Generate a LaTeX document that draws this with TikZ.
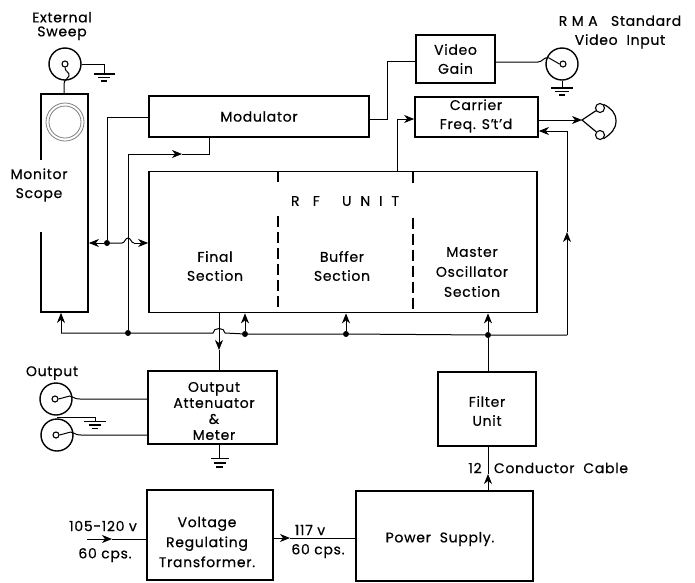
\documentclass[tikz,border=0pt]{standalone}
\usepackage{fontspec}
\setmainfont[LetterSpace=5,FakeBold=0.5]{Poppins}
\usetikzlibrary{arrows.meta}
\tikzset{
 box/.style={draw,line width=1.7pt,inner sep=0pt,align=center},
 lbl/.style={inner sep=0pt,align=center,font=\fontsize{14}{19}\selectfont},
 wire/.style={line width=1pt},
 arr/.style={wire,-{Stealth[length=10pt,width=8pt,inset=3pt]}},
 dot/.style={circle,fill=black,inner sep=0pt,minimum size=6pt},
 jack/.style={circle,draw,line width=1.4pt,inner sep=0pt,minimum size=32pt},
 pin/.style={circle,draw,line width=1.1pt,inner sep=0pt,minimum size=6pt},
 gnd/.style={line width=1.2pt},
 sep/.style={line width=1.2pt},
}
\newcommand{\boxat}[5]{\node[box,minimum width=#4pt,minimum height=#5pt] (#1) at (#2,#3) {};}
\begin{document}
\begin{tikzpicture}[x=1pt,y=-1pt]
\useasboundingbox[fill=white] (0,0) rectangle (695,582);
% boxes
\boxat{scope}{64.5}{203}{47}{218}
\boxat{mod}{259}{116.5}{220}{41}
\boxat{vid}{455.5}{59}{79}{48}
\boxat{car}{476.5}{117}{123}{40}
\boxat{rf}{343}{242}{388}{141}
\boxat{filt}{487}{409}{98}{74}
\boxat{att}{212.5}{407.5}{129}{73}
\boxat{vol}{210}{535}{126}{90}
\boxat{pow}{444.5}{536}{177}{90}
% gap in scope left side
\fill[white] (38,160) rectangle (44,232);
% scope tube
\node[circle,draw=gray,line width=.8pt,minimum size=38pt,inner sep=0pt] (tube) at (65,122) {};
\node[circle,draw=gray,line width=.8pt,minimum size=32pt,inner sep=0pt] (tubein) at (65,122) {};
% RF separators
\draw[sep] (rf.north -| 278,0) -- (278,182);
\draw[sep,dash pattern=on 11pt off 5pt] (278,216) -- (278,312);
\draw[sep] (rf.north -| 413,0) -- (413,183);
\draw[sep,dash pattern=on 11pt off 5pt] (413,218) -- (413,312);
% labels
\node[lbl] (t1) at (62,26) {External\\[-5pt]Sweep};
\node[lbl] (t2) at (620,32) {R M A\ \ \ Standard\\Video\ \ Input};
\node[lbl] at (vid.center) {Video\\Gain};
\node[lbl] at (476,116) {Carrier\\Freq. S'\kern-.5pt t'd};
\node[lbl] at (mod.center) {Modulator};
\node[lbl] at (345,201) {R\ \ \ F\ \ \ \ \ U\ \ N\ \ I\ \ T};
\node[lbl] at (215,266) {Final\\Section};
\node[lbl] at (342,266) {Buffer\\Section};
\node[lbl] at (472,272) {Master\\[1pt]Oscillator\\[1pt]Section};
\node[lbl,fill=white,inner xsep=1pt] at (39,185) {Monitor\\Scope};
\node[lbl] at (52,373) {Output};
\node[lbl,font=\fontsize{14}{16}\selectfont] at (214,411) {Output\\Attenuator\\\&\\Meter};
\node[lbl] at (487,411) {Filter\\Unit};
\node[lbl] at (475,468) {12};
\node[lbl] at (561,468) {Conductor\ \ Cable};
\node[lbl] at (440,539) {Power\ \ Supply.};
\node[lbl,font=\fontsize{14}{20}\selectfont] at (207,542) {Voltage\\Regulating\\Transformer.};
\node[lbl] at (103,526) {105-120 v};
\node[lbl] at (105,555) {60 cps.};
\node[lbl] at (310,530) {117 v};
\node[lbl] at (318,551) {60 cps.};
% external sweep jack
\node[jack] (j1) at (65,64) {};
\node[pin] (p1) at (65,64) {};
\draw[wire] (p1.south) .. controls (65,72) and (70,72) .. (69,76) .. controls (68,80) and (64,79) .. (64,84) -- (scope.north -| 64,0);
\coordinate (g1) at (104,74);
\draw[wire] (j1.east) -- (104,64) -- (g1);
\draw[gnd] (94,74) -- (115,74) (98,77.5) -- (110,77.5) (101,81) -- (107,81);
% modulator connections
\node[dot] (d1) at (107,243) {};
\draw[wire] (mod.west |- 0,117) -- (107,117) -- (d1);
\draw[arr] (d1) -- (scope.east |- d1);
\draw[wire] (d1) -- (122,243) .. controls (125,243) and (125,238) .. (128,238) .. controls (131,238) and (131,243) .. (134,243);
\draw[arr] (134,243) -- (rf.west |- d1);
\node[dot] (d2) at (128,333) {};
\coordinate (m1) at (128,154);
\draw[wire] (mod.south -| 209,0) -- (209,154) -- (182,154);
\draw[wire] (m1) -- (d2);
\draw[arr] (m1) -- (182,154);
% bottom bus
\coordinate (b0) at (61,333);
\coordinate (b1) at (567,335);
\node[dot] (d3) at (245,334) {};
\node[dot] (d4) at (346,334) {};
\node[dot] (d5) at (488,335) {};
\draw[wire] (b0) -- (d2) -- (213,333) .. controls (213,327) and (225,327) .. (225,333) -- (d3) -- (d4) -- (d5) -- (b1);
\draw[arr] (b0) -- (scope.south -| b0);
\draw[arr] (d3) -- (rf.south -| d3);
\draw[arr] (d4) -- (rf.south -| d4);
\draw[arr] (d5) -- (rf.south -| d5);
\draw[wire] (filt.north -| d5) -- (d5);
% right riser
\draw[arr] (b1) -- (567,232);
\coordinate (c1) at (567,131);
\draw[wire] (567,232) -- (c1);
\draw[arr] (c1) -- (car.east |- c1);
% RF to attenuator
\draw[wire] (219,350) -- (att.north -| 219,0);
\draw[arr] (rf.south -| 219,0) -- (219,350);
% video gain
\draw[wire] (mod.east |- 0,119) -- (387,119) -- (387,61) -- (vid.west |- 0,61);
\node[jack] (j2) at (562,64) {};
\node[pin] (p2) at (563,64) {};
\draw[wire] (vid.east |- 0,62) -- (538,62) .. controls (543,62) and (544,56) .. (549,58) -- (p2.west);
\draw[wire] (j2.south) -- (562,88);
\draw[gnd] (551,88) -- (573,88) (555,91.5) -- (569,91.5) (559,95) -- (565,95);
% carrier
\draw[wire] (rf.north -| 397,0) -- (397,119);
\draw[arr] (397,119) -- (car.west |- 0,119);
\coordinate (c2) at (582,120);
\draw[arr] (car.east |- c2) -- (c2);
\node[pin,minimum size=9pt] (h1) at (600,108) {};
\node[pin,minimum size=9pt] (h2) at (600,135) {};
\draw[line width=1.2pt] (h1) -- (c2) -- (h2);
\draw[line width=1.2pt] (h1.north east) .. controls (611,108) and (616,113) .. (616,121) .. controls (616,129) and (611,134) .. (h2.south east);
% output jacks
\node[jack] (j3) at (56,399) {};
\node[pin] (p3) at (55,399) {};
\node[jack] (j4) at (57,435) {};
\node[pin] (p4) at (56,435) {};
\draw[wire] (p3.east) -- (66,397) .. controls (72,394) and (72,399) .. (80,399) -- (att.west |- 0,399);
\draw[wire] (p4.east) -- (67,433) .. controls (73,430) and (73,435) .. (81,435) -- (att.west |- 0,435);
\coordinate (g3) at (95,421);
\draw[wire] (57,417) -- (95,417) -- (g3);
\draw[gnd] (84,421.5) -- (106,421.5) (89,425) -- (101,425) (92,428.5) -- (98,428.5);
% attenuator ground
\coordinate (g4) at (219,458);
\draw[wire] (att.south -| g4) -- (g4);
\draw[gnd] (211,458.5) -- (229,458.5) (214,463) -- (226,463) (216,467) -- (223,467);
% power path
\coordinate (i1) at (87,539);
\draw[wire] (112,539) -- (vol.west |- i1);
\draw[arr] (i1) -- (112,539);
\draw[wire] (290,538) -- (pow.west |- 0,538);
\draw[arr] (vol.east |- 0,538) -- (290,538);
\draw[wire] (474,488) ++(14,-14) -- (filt.south -| 488,0);
\draw[arr] (pow.north -| 488,0) -- (488,474);
\end{tikzpicture}
\end{document}
